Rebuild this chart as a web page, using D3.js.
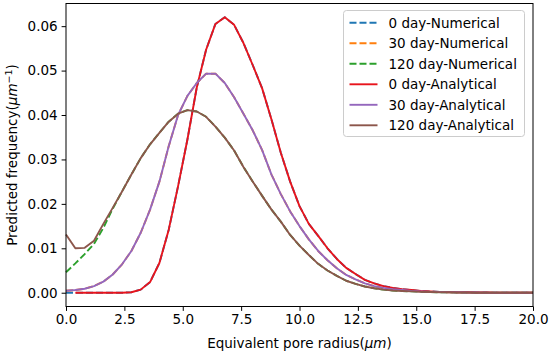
<!DOCTYPE html>
<html>
<head>
<meta charset="utf-8">
<script src="https://cdn.jsdelivr.net/npm/d3@7"></script>
<style>
  body { margin: 0; background: #fff; }
  text { font-family: "DejaVu Sans", sans-serif; }
</style>
</head>
<body>
<svg id="chart" width="550" height="353"></svg>
<script>
// pore radius grid (um)
const radius = [0, 0.4, 0.8, 1.2, 1.6, 2, 2.4, 2.8, 3.2, 3.6, 4, 4.4, 4.8, 5.2, 5.6, 6, 6.4, 6.8, 7.2, 7.6,
  8, 8.4, 8.8, 9.2, 9.6, 10, 10.4, 10.8, 11.2, 11.6, 12, 12.4, 12.8, 13.2, 13.6, 14, 14.4, 14.8, 15.2, 15.6,
  16, 16.4, 16.8, 17.2, 17.6, 18, 18.4, 18.8, 19.2, 19.6, 20];

const day0Numerical = [0, 0, 0, 0, 0, 0, 0, 0.0001, 0.0007, 0.0024, 0.0067, 0.0142, 0.0240, 0.0345, 0.0462, 0.0547,
  0.0605, 0.0620, 0.0603, 0.0562, 0.0512, 0.0460, 0.0390, 0.0315, 0.0250, 0.0195, 0.0155, 0.0128, 0.0100, 0.0076,
  0.0056, 0.0042, 0.0029, 0.0021, 0.0015, 0.0011, 0.0008, 0.0006, 0.0004, 0.0003, 0.0002, 0.00015, 0.0001, 0.0001,
  0.00005, 0.00005, 0, 0, 0, 0, 0];
const day30Numerical = [0.00045, 0.0006, 0.0009, 0.0015, 0.0025, 0.0041, 0.0064, 0.0094, 0.0135, 0.0187, 0.0250,
  0.0330, 0.0400, 0.0443, 0.0472, 0.0493, 0.0493, 0.0472, 0.0440, 0.0403, 0.0365, 0.0321, 0.0266, 0.0222, 0.0183,
  0.0150, 0.0120, 0.0094, 0.0073, 0.0055, 0.0040, 0.0030, 0.0021, 0.0015, 0.0011, 0.0008, 0.0006, 0.0004, 0.0003,
  0.0002, 0.00015, 0.0001, 0.0001, 0.00005, 0.00005, 0, 0, 0, 0, 0, 0];
const day120Numerical = [0.0046, 0.0066, 0.0087, 0.0110, 0.0146, 0.0189, 0.0228, 0.0266, 0.0303, 0.0334, 0.0360,
  0.0385, 0.0403, 0.0411, 0.0408, 0.0396, 0.0374, 0.0349, 0.0320, 0.0283, 0.0250, 0.0218, 0.0187, 0.0160, 0.0130,
  0.0106, 0.0085, 0.0065, 0.0050, 0.0038, 0.0027, 0.0020, 0.0014, 0.0010, 0.0007, 0.0005, 0.0004, 0.0003, 0.0002,
  0.00015, 0.0001, 0.0001, 0.00005, 0.00005, 0, 0, 0, 0, 0, 0, 0];

const day0Analytical = [null, 0, 0, 0, 0, 0, 0, 0.0001, 0.0007, 0.0024, 0.0067, 0.0142, 0.0240, 0.0345, 0.0462, 0.0547,
  0.0605, 0.0620, 0.0603, 0.0562, 0.0512, 0.0460, 0.0390, 0.0315, 0.0250, 0.0195, 0.0155, 0.0128, 0.0100, 0.0076,
  0.0056, 0.0042, 0.0029, 0.0021, 0.0015, 0.0011, 0.0008, 0.0006, 0.0004, 0.0003, 0.0002, 0.00015, 0.0001, 0.0001,
  0.00005, 0.00005, 0, 0, 0, 0, 0];
const day30Analytical = day30Numerical.slice();
const day120Analytical = [0.0131, 0.0100, 0.0101, 0.0117, 0.0155, 0.0191, 0.0228, 0.0266, 0.0303, 0.0334, 0.0360,
  0.0385, 0.0403, 0.0411, 0.0408, 0.0396, 0.0374, 0.0349, 0.0320, 0.0283, 0.0250, 0.0218, 0.0187, 0.0160, 0.0130,
  0.0106, 0.0085, 0.0065, 0.0050, 0.0038, 0.0027, 0.0020, 0.0014, 0.0010, 0.0007, 0.0005, 0.0004, 0.0003, 0.0002,
  0.00015, 0.0001, 0.0001, 0.00005, 0.00005, 0, 0, 0, 0, 0, 0, 0];

const xTicks = [0, 2.5, 5, 7.5, 10, 12.5, 15, 17.5, 20];
const yTicks = [0, 0.01, 0.02, 0.03, 0.04, 0.05, 0.06];

const series = [
  { name: "0 day-Numerical", values: day0Numerical, color: "#1f77b4", dashed: true },
  { name: "30 day-Numerical", values: day30Numerical, color: "#ff7f0e", dashed: true },
  { name: "120 day-Numerical", values: day120Numerical, color: "#2ca02c", dashed: true },
  { name: "0 day-Analytical", values: day0Analytical, color: "#e8141c", dashed: false },
  { name: "30 day-Analytical", values: day30Analytical, color: "#9467bd", dashed: false },
  { name: "120 day-Analytical", values: day120Analytical, color: "#8c564b", dashed: false }
];

const svg = d3.select("#chart");
const margin = { left: 66, right: 17, top: 3.5, bottom: 46.5 };
const width = 550 - margin.left - margin.right,
      height = 353 - margin.top - margin.bottom;
const fontSize = 13.5;

const x = d3.scaleLinear().domain([0, 20]).range([0, width]);
const y = d3.scaleLinear().domain([-0.0031, 0.0651]).range([height, 0]);

const g = svg.append("g").attr("transform", `translate(${margin.left},${margin.top})`);

const line = d3.line()
  .defined(d => d[1] != null)
  .x(d => x(d[0]))
  .y(d => y(d[1]));

g.append("g").attr("class", "lines")
  .selectAll("path")
  .data(series)
  .enter().append("path")
  .attr("d", s => line(radius.map((r, i) => [r, s.values[i]])))
  .attr("fill", "none")
  .attr("stroke", s => s.color)
  .attr("stroke-width", 1.9)
  .attr("stroke-linejoin", "round")
  .attr("stroke-dasharray", s => s.dashed ? "7,3" : null);

// axes
const xAxis = g.append("g")
  .attr("transform", `translate(0,${height})`)
  .call(d3.axisBottom(x).tickValues(xTicks).tickFormat(d3.format(".1f")).tickSizeOuter(0).tickSize(4.4).tickPadding(3.5));
const yAxis = g.append("g")
  .call(d3.axisLeft(y).tickValues(yTicks).tickFormat(d3.format(".2f")).tickSizeOuter(0).tickSize(4.4).tickPadding(4));

[xAxis, yAxis].forEach(a => {
  a.select(".domain").remove();
  a.selectAll("text").attr("font-size", fontSize).attr("fill", "#000")
    .style("font-family", "'DejaVu Sans', sans-serif");
  a.selectAll("line").attr("stroke", "#000").attr("stroke-width", 1);
});

// frame
g.append("rect")
  .attr("width", width).attr("height", height)
  .attr("fill", "none").attr("stroke", "#000").attr("stroke-width", 1);

// axis labels
const xl = svg.append("text")
  .attr("x", margin.left + width / 2).attr("y", 348)
  .attr("text-anchor", "middle").attr("font-size", fontSize);
xl.append("tspan").text("Equivalent pore radius(");
xl.append("tspan").attr("font-style", "italic").text("μm");
xl.append("tspan").text(")");

const yl = svg.append("text")
  .attr("transform", `translate(17,${margin.top + height / 2}) rotate(-90)`)
  .attr("text-anchor", "middle").attr("font-size", fontSize);
yl.append("tspan").text("Predicted frequency(");
yl.append("tspan").attr("font-style", "italic").text("μm");
yl.append("tspan").attr("font-size", 9.5).attr("dy", -5.5).text("−1");
yl.append("tspan").attr("dy", 5.5).text(")");

// legend
const legend = svg.append("g").attr("transform", "translate(343.5,10.5)");
legend.append("rect")
  .attr("width", 181).attr("height", 126).attr("rx", 3)
  .attr("fill", "#fff").attr("fill-opacity", 0.8)
  .attr("stroke", "#ccc").attr("stroke-width", 1);

const item = legend.selectAll("g.item")
  .data(series)
  .enter().append("g")
  .attr("class", "item")
  .attr("transform", (d, i) => `translate(0,${12.3 + i * 20.5})`);

item.append("line")
  .attr("x1", 6).attr("x2", 34)
  .attr("stroke", d => d.color)
  .attr("stroke-width", 1.9)
  .attr("stroke-dasharray", d => d.dashed ? "7,3" : null);

item.append("text")
  .attr("x", 45).attr("y", 5)
  .attr("font-size", fontSize)
  .text(d => d.name);
</script>
</body>
</html>
